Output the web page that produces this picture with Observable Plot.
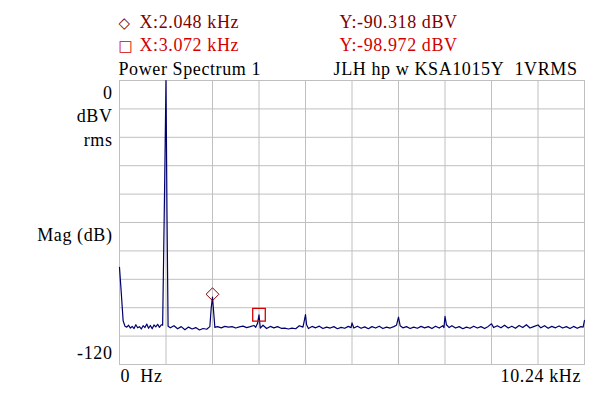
<!DOCTYPE html>
<html><head><meta charset="utf-8">
<script src="https://cdn.jsdelivr.net/npm/d3@7"></script>
<script src="https://cdn.jsdelivr.net/npm/@observablehq/plot@0.6"></script>
<style>body{margin:0;background:#fff}</style>
</head><body><div id="chart"></div>
<script>
// Spectrum trace (kHz, dBV rms)
const freqKHz = [0,0.04,0.08,0.12,0.16,0.20,0.24,0.28,0.32,0.36,0.40,0.44,0.48,0.52,0.56,0.60,0.64,0.68,0.72,0.76,0.80,0.84,0.88,0.92,0.95,0.99,1.024,1.045,1.07,
1.12,1.20,1.28,1.36,1.44,1.52,1.60,1.68,1.76,1.84,1.92,1.99,2.02,2.048,2.07,2.10,2.16,2.24,2.32,2.40,2.48,2.56,2.64,2.72,2.80,2.88,2.96,3.00,3.04,3.072,3.10,
3.16,3.24,3.32,3.40,3.48,3.56,3.64,3.72,3.80,3.88,3.96,4.04,4.07,4.096,4.12,4.16,4.24,4.32,4.40,4.48,4.56,4.64,4.72,4.80,4.88,4.96,5.04,5.10,5.12,5.16,
5.24,5.32,5.40,5.48,5.56,5.64,5.72,5.80,5.88,5.96,6.04,6.10,6.144,6.18,6.24,6.32,6.40,6.48,6.56,6.64,6.72,6.80,6.88,6.96,7.04,7.12,7.145,7.168,7.20,7.26,
7.32,7.40,7.48,7.56,7.64,7.72,7.80,7.88,7.96,8.04,8.12,8.192,8.24,8.32,8.40,8.48,8.56,8.64,8.72,8.80,8.88,8.96,9.04,9.12,9.216,9.28,9.36,9.44,9.52,9.60,
9.68,9.76,9.84,9.92,10.00,10.08,10.16,10.21,10.24];
const magDB = [-79.0,-90.0,-101.5,-103.8,-104.2,-103.4,-104.6,-103.9,-104.8,-103.2,-104.5,-104.0,-105.0,-103.6,-104.4,-102.9,-104.7,-103.5,-104.9,-103.3,-104.1,-103.0,-104.3,-103.2,-103.4,-50,0,-55,-103.8,
-104.5,-103.6,-104.9,-104.0,-105.3,-104.2,-105.0,-104.4,-105.4,-104.8,-105.1,-104.0,-96,-91.5,-97,-104.3,-104.0,-104.5,-103.9,-104.2,-104.0,-104.6,-104.1,-103.8,-104.4,-104.0,-103.5,-104.3,-102.6,-99.0,-104.6,
-103.4,-104.8,-103.9,-104.5,-104.0,-104.7,-104.6,-105.0,-104.6,-104.9,-103.6,-104.2,-101.5,-98.9,-103.2,-104.8,-103.9,-104.5,-103.8,-104.8,-104.2,-104.6,-104.0,-104.9,-104.3,-104.7,-103.9,-104.4,-102.4,-104.6,
-103.8,-104.7,-104.1,-104.9,-104.0,-104.6,-103.8,-104.8,-104.2,-104.6,-104.0,-103.4,-100.0,-103.6,-104.5,-104.0,-104.8,-104.2,-104.7,-103.9,-104.5,-104.0,-104.8,-103.8,-104.6,-103.6,-104.4,-99.7,-103.2,-104.4,
-103.6,-104.6,-104.0,-104.9,-104.2,-104.7,-103.8,-104.6,-104.0,-104.8,-103.9,-102.8,-104.4,-103.6,-104.5,-103.4,-104.6,-103.8,-104.7,-103.5,-104.4,-103.2,-104.6,-104.0,-103.3,-104.5,-103.6,-104.7,-103.9,-104.5,
-103.7,-104.6,-104.0,-104.8,-103.9,-104.7,-104.0,-104.2,-101.4];

// Cursor readouts
const cursorX = [2.048, 3.072];
const cursorY = [-90.318, -98.972];
const cursorLabelX = ["X:2.048 kHz", "X:3.072 kHz"];
const cursorLabelY = ["Y:-90.318 dBV", "Y:-98.972 dBV"];
const cursorSymbol = ["diamond2", "square"];
const cursorGlyph = ["\u25C7", "\u25A1"];
const cursorColor = ["#800000", "#d40000"];

// Grid / tick labels
const xGrid = [0,1.024,2.048,3.072,4.096,5.12,6.144,7.168,8.192,9.216,10.24];
const yGrid = [0,-12,-24,-36,-48,-60,-72,-84,-96,-108,-120];
const titleLeft = "Power Spectrum 1";
const titleRight = "JLH hp w KSA1015Y\u00a0 1VRMS";
const yTopLabel = ["0", "dBV", "rms"];
const yMidLabel = "Mag (dB)";
const yBottomLabel = "-120";
const xLeftLabel = "0\u00a0 Hz";
const xRightLabel = "10.24 kHz";

const data = freqKHz.map((f, i) => ({f, db: magDB[i]}));
const cursors = cursorX.map((x, i) => ({x, y: cursorY[i], s: cursorSymbol[i], c: cursorColor[i]}));

const FS = 18, LS = "0.6px";
const txt = (s, o) => Plot.text([s], {text: d => d, fontSize: FS, ...o});

const chart = Plot.plot({
  width: 600, height: 397,
  marginLeft: 119, marginRight: 16, marginTop: 80, marginBottom: 33,
  x: {domain: [0, 10.24], axis: null},
  y: {domain: [-120, 0], axis: null},
  style: {fontFamily: "'Liberation Serif', 'Times New Roman', serif", fontSize: "18px", background: "#fff", color: "#000", letterSpacing: LS},
  marks: [
    Plot.gridX(xGrid, {stroke: "#c0c0c0", strokeOpacity: 1}),
    Plot.gridY(yGrid, {stroke: "#c0c0c0", strokeOpacity: 1}),
    Plot.frame({stroke: "#c0c0c0"}),
    Plot.line(data, {x: "f", y: "db", stroke: "#00006e", strokeWidth: 1.2}),
    Plot.dot(cursors.slice(0,1), {x: "x", y: "y", symbol: "s", stroke: "c", r: 5.8, strokeWidth: 1}),
    Plot.dot(cursors.slice(1,2), {x: "x", y: "y", symbol: "s", stroke: "c", r: 7.1, strokeWidth: 1.3}),
    // header readouts
    txt(cursorGlyph[0], {frameAnchor: "top-left", textAnchor: "start", lineAnchor: "bottom", dx: -1, dy: -53, fill: cursorColor[0], fontFamily: "DejaVu Sans", fontSize: 15}),
    txt(cursorLabelX[0], {frameAnchor: "top-left", textAnchor: "start", lineAnchor: "bottom", dx: 20, dy: -53, fill: cursorColor[0]}),
    txt(cursorLabelY[0], {frameAnchor: "top-left", textAnchor: "start", lineAnchor: "bottom", dx: 220, dy: -53, fill: cursorColor[0]}),
    txt(cursorGlyph[1], {frameAnchor: "top-left", textAnchor: "start", lineAnchor: "bottom", dx: -1, dy: -30, fill: cursorColor[1], fontFamily: "DejaVu Sans", fontSize: 15}),
    txt(cursorLabelX[1], {frameAnchor: "top-left", textAnchor: "start", lineAnchor: "bottom", dx: 20, dy: -30, fill: cursorColor[1]}),
    txt(cursorLabelY[1], {frameAnchor: "top-left", textAnchor: "start", lineAnchor: "bottom", dx: 220, dy: -30, fill: cursorColor[1]}),
    txt(titleLeft, {frameAnchor: "top-left", textAnchor: "start", lineAnchor: "bottom", dx: -1, dy: -6}),
    txt(titleRight, {frameAnchor: "top-right", textAnchor: "end", lineAnchor: "bottom", dx: -7, dy: -6}),
    // y labels
    txt(yTopLabel[0], {frameAnchor: "top-left", textAnchor: "end", lineAnchor: "bottom", dx: -7, dy: 18}),
    txt(yTopLabel[1], {frameAnchor: "top-left", textAnchor: "end", lineAnchor: "bottom", dx: -7, dy: 41.5}),
    txt(yTopLabel[2], {frameAnchor: "top-left", textAnchor: "end", lineAnchor: "bottom", dx: -7, dy: 65}),
    txt(yMidLabel, {frameAnchor: "top-left", textAnchor: "end", lineAnchor: "bottom", dx: -7, dy: 160.5}),
    txt(yBottomLabel, {frameAnchor: "bottom-left", textAnchor: "end", lineAnchor: "bottom", dx: -7, dy: -6}),
    // x labels
    txt(xLeftLabel, {frameAnchor: "bottom-left", textAnchor: "start", lineAnchor: "bottom", dx: 1, dy: 17}),
    txt(xRightLabel, {frameAnchor: "bottom-right", textAnchor: "end", lineAnchor: "bottom", dx: -3.5, dy: 17})
  ]
});
document.getElementById("chart").appendChild(chart);
</script>
</body></html>
